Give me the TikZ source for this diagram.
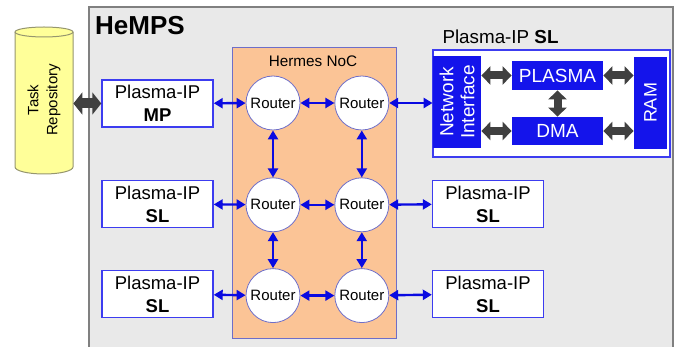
\documentclass[tikz,border=0pt]{standalone}
\usepackage{fontspec}
\setmainfont{Liberation Sans}
\usepackage{tikz}
\usepackage{xcolor}
\usetikzlibrary{arrows.meta, positioning}

\definecolor{hempsgray}{RGB}{233,233,233}
\definecolor{hempsline}{RGB}{128,128,128}
\definecolor{ipblue}{RGB}{20,20,235}
\definecolor{boxline}{RGB}{60,60,240}
\definecolor{linkblue}{RGB}{10,10,225}
\definecolor{routerline}{RGB}{110,110,200}
\definecolor{nocfill}{RGB}{251,196,150}
\definecolor{nocline}{RGB}{110,110,200}
\definecolor{busgray}{RGB}{64,64,64}
\definecolor{repofill}{RGB}{255,255,153}
\definecolor{repoline}{RGB}{150,150,110}

\begin{document}
\begin{tikzpicture}[x=1pt, y=-1pt, thick,
    pip/.style={rectangle, draw=boxline, fill=white, line width=1.4pt, minimum width=111pt, minimum height=47pt, inner sep=0pt, align=center, font=\fontsize{18.5}{23}\selectfont},
    router/.style={circle, draw=routerline, fill=white, line width=0.8pt, minimum size=54pt, inner sep=0pt, font=\fontsize{15}{16}\selectfont},
    blk/.style={rectangle, fill=ipblue, text=white, inner sep=0pt, align=center, font=\fontsize{19}{21}\selectfont},
    link/.style={draw=linkblue, line width=2.4pt, {Triangle[length=9pt,width=10pt]}-{Triangle[length=9pt,width=10pt]}},
    bus/.style={draw=busgray, line width=8pt, {Triangle[length=9pt,width=18pt]}-{Triangle[length=9pt,width=18pt]}}]
    \useasboundingbox (0,0) rectangle (676,347);

    % HeMPS frame
    \fill[hempsgray] (89,7) rectangle (673,347);
    \draw[hempsline, line width=1.5pt] (89,347) -- (89,7) -- (673,7) -- (673,347);
    \node[font=\fontsize{26}{28}\selectfont\bfseries] (hemps) at (140,26) {HeMPS};

    % Task repository
    \draw[fill=repofill, draw=repoline, line width=1pt] (15,32) -- (15,167)
        arc[start angle=180, end angle=360, x radius=29pt, y radius=7pt] -- (73,32)
        arc[start angle=0, end angle=180, x radius=29pt, y radius=5pt] -- cycle;
    \draw[draw=repoline, line width=1pt] (15,32) arc[start angle=180, end angle=360, x radius=29pt, y radius=5pt];
    \node[minimum width=58pt, minimum height=140pt, inner sep=0pt] (repo) at (44,100) {};
    \node[rotate=90, align=center, font=\fontsize{15}{19}\selectfont] (repotext) at (repo.center) {Task\\Repository};

    % Hermes NoC
    \node[rectangle, draw=nocline, fill=nocfill, line width=1pt, minimum width=164pt, minimum height=290pt] (noc) at (314,193) {};
    \node[font=\fontsize{15.3}{17}\selectfont] (noclabel) at (313,61) {Hermes NoC};

    \node[router] (r11) at (273,103) {Router};
    \node[router, right=34pt of r11] (r12) {Router};
    \node[router, below=47pt of r11] (r21) {Router};
    \node[router, right=34pt of r21] (r22) {Router};
    \node[router, below=36pt of r21] (r31) {Router};
    \node[router, right=34pt of r31] (r32) {Router};

    % Plasma-IP nodes
    \node[pip] (mp) at (157.5,103.5) {Plasma-IP\\\textbf{MP}};
    \node[pip] (sl1) at (157.5,204) {Plasma-IP\\\textbf{SL}};
    \node[pip] (sl2) at (157.5,294) {Plasma-IP\\\textbf{SL}};
    \node[pip] (sl3) at (488,204) {Plasma-IP\\\textbf{SL}};
    \node[pip] (sl4) at (488,294) {Plasma-IP\\\textbf{SL}};

    % Plasma-IP SL detail
    \node[font=\fontsize{18.8}{20}\selectfont] (sltitle) at (500.5,37) {Plasma-IP \textbf{SL}};
    \node[rectangle, draw=boxline, fill=white, line width=1.5pt, minimum width=237pt, minimum height=107pt] (slbox) at (551.5,103.5) {};
    \node[blk, minimum width=48pt, minimum height=92pt] (ni) at (457,102) {};
    \node[rotate=90, align=center, text=white, font=\fontsize{19}{21}\selectfont] (nitext) at (ni.center) {Network\\Interface};
    \node[blk, minimum width=91pt, minimum height=29pt] (plasma) at (557.5,75.5) {PLASMA};
    \node[blk, minimum width=91pt, minimum height=28pt] (dma) at (557.5,131) {DMA};
    \node[blk, minimum width=33pt, minimum height=92pt] (ram) at (650.5,103) {};
    \node[rotate=90, text=white, font=\fontsize{18}{20}\selectfont] (ramtext) at (ram.center) {RAM};

    % Edges
    \draw[bus, line width=10pt, {Triangle[length=9pt,width=22pt]}-{Triangle[length=9pt,width=22pt]}] (repo.east |- mp.west) -- (mp.west);
    \draw[bus] (ni.east |- plasma.west) -- (plasma.west);
    \draw[bus] (ni.east |- dma.west) -- (dma.west);
    \draw[bus] (plasma.east) -- (plasma.east -| ram.west);
    \draw[bus] (dma.east) -- (dma.east -| ram.west);
    \draw[bus] (plasma) -- (dma);

    \draw[link] (mp) -- (r11);
    \draw[link] (sl1) -- (r21);
    \draw[link] (sl2) -- (r31);
    \draw[link] (r11) -- (r12);
    \draw[link] (r21) -- (r22);
    \draw[link] (r31) -- (r32);
    \draw[link] (r11) -- (r21);
    \draw[link] (r21) -- (r31);
    \draw[link] (r12) -- (r22);
    \draw[link] (r22) -- (r32);
    \draw[link] (r12) -- (r12 -| ni.west);
    \draw[link] (r22) -- (sl3);
    \draw[link] (r32) -- (sl4);
\end{tikzpicture}
\end{document}
